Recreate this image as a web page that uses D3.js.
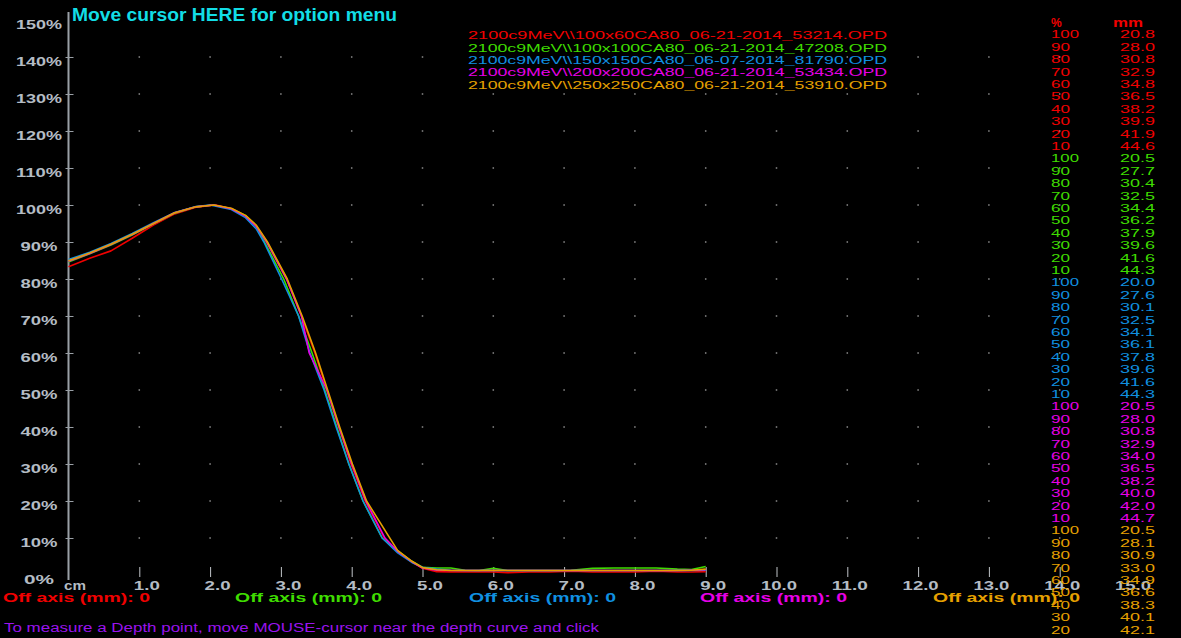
<!DOCTYPE html>
<html>
<head>
<meta charset="utf-8">
<script src="https://cdn.jsdelivr.net/npm/d3@7"></script>
<style>
  html, body { margin: 0; padding: 0; background: #000; overflow: hidden; }
  svg { display: block; }
</style>
</head>
<body>
<svg id="chart" width="1181" height="638"></svg>
<script>
// ---- Depth-dose data (depth in cm, dose in %) ----
const seriesNames = [
  "2100c9MeV\\\\100x60CA80_06-21-2014_53214.OPD",
  "2100c9MeV\\\\100x100CA80_06-21-2014_47208.OPD",
  "2100c9MeV\\\\150x150CA80_06-07-2014_81790.OPD",
  "2100c9MeV\\\\200x200CA80_06-21-2014_53434.OPD",
  "2100c9MeV\\\\250x250CA80_06-21-2014_53910.OPD"
];
const seriesColors = ["#f00000", "#3fdc00", "#1090e0", "#e600e6", "#e6a000"];

// Build-up region
const buildDepth = [0, 0.3, 0.6, 0.9, 1.2, 1.5, 1.8];
const buildRed     = [83.3, 85.6, 87.6, 91.0, 94.6, 97.6, 99.4];
const buildGreen   = [84.6, 86.8, 89.2, 91.9, 94.9, 97.8, 99.5];
const buildBlue    = [85.3, 87.2, 89.6, 92.3, 95.2, 98.0, 99.6];
const buildMagenta = [84.8, 86.9, 89.3, 92.0, 95.0, 97.9, 99.5];
const buildOrange  = [84.9, 87.0, 89.4, 92.1, 95.0, 97.9, 99.5];

// Shoulder just past the maximum
const shoulderDepth = [2.3, 2.5, 2.65];
const shoulderRed     = [99.0, 97.0, 94.3];
const shoulderGreen   = [99.0, 97.2, 94.4];
const shoulderBlue    = [98.8, 96.6, 93.6];
const shoulderMagenta = [99.0, 97.0, 94.3];
const shoulderOrange  = [99.1, 97.2, 94.6];

// Fall-off: depth (mm) at which each dose level is reached
const levels = [100, 90, 80, 70, 60, 50, 40, 30, 20, 10];
const mmRed     = [20.8, 28.0, 30.8, 32.9, 34.8, 36.5, 38.2, 39.9, 41.9, 44.6];
const mmGreen   = [20.5, 27.7, 30.4, 32.5, 34.4, 36.2, 37.9, 39.6, 41.6, 44.3];
const mmBlue    = [20.0, 27.6, 30.1, 32.5, 34.1, 36.1, 37.8, 39.6, 41.6, 44.3];
const mmMagenta = [20.5, 28.0, 30.8, 32.9, 34.0, 36.5, 38.2, 40.0, 42.0, 44.7];
const mmOrange  = [20.5, 28.1, 30.9, 33.0, 34.9, 36.6, 38.3, 40.1, 42.1];

// Bremsstrahlung tail
const tailDepth = [4.65, 4.85, 5.0, 5.2, 5.4, 5.6, 5.8, 6.0, 6.2, 6.5, 6.8, 7.1, 7.4, 7.7, 8.0, 8.3, 8.6, 8.8, 9.0];
const tailRed     = [6.3, 3.5, 1.8, 0.9, 0.8, 0.8, 0.8, 0.8, 0.6, 0.8, 0.8, 1.0, 0.8, 0.8, 0.8, 1.0, 0.8, 0.8, 0.9];
const tailGreen   = [6.6, 3.7, 2.1, 1.9, 1.9, 1.3, 1.2, 1.8, 1.2, 1.2, 1.2, 1.3, 1.8, 1.9, 1.9, 1.9, 1.6, 1.5, 2.3];
const tailBlue    = [6.0, 3.4, 2.1, 1.6, 1.3, 1.2, 1.2, 1.2, 1.2, 1.2, 1.2, 1.2, 1.2, 1.2, 1.2, 1.2, 1.2, 1.2, 1.3];
const tailMagenta = [6.4, 3.6, 1.9, 1.3, 1.2, 1.2, 1.2, 1.2, 1.2, 1.2, 1.2, 1.2, 1.2, 1.2, 1.2, 1.2, 1.2, 1.3, 1.4];
const tailOrange  = [6.6, 3.7, 2.0, 1.4, 1.2, 1.2, 1.2, 1.2, 1.2, 1.2, 1.2, 1.2, 1.2, 1.2, 1.2, 1.2, 1.2, 1.3, 1.6];

const xTicks = [0, 1, 2, 3, 4, 5, 6, 7, 8, 9, 10, 11, 12, 13, 14, 15];
const yTicks = [0, 10, 20, 30, 40, 50, 60, 70, 80, 90, 100, 110, 120, 130, 140, 150];

const series = [
  { build: buildRed,     shoulder: shoulderRed,     mm: mmRed,     tail: tailRed },
  { build: buildGreen,   shoulder: shoulderGreen,   mm: mmGreen,   tail: tailGreen },
  { build: buildBlue,    shoulder: shoulderBlue,    mm: mmBlue,    tail: tailBlue },
  { build: buildMagenta, shoulder: shoulderMagenta, mm: mmMagenta, tail: tailMagenta },
  { build: buildOrange,  shoulder: shoulderOrange,  mm: mmOrange,  tail: tailOrange }
].map((s, i) => {
  const pts = [];
  buildDepth.forEach((d, k) => pts.push([d, s.build[k]]));
  pts.push([s.mm[0] / 10, levels[0]]);
  shoulderDepth.forEach((d, k) => pts.push([d, s.shoulder[k]]));
  for (let k = 1; k < s.mm.length; k++) pts.push([s.mm[k] / 10, levels[k]]);
  tailDepth.forEach((d, k) => pts.push([d, s.tail[k]]));
  return { name: seriesNames[i], color: seriesColors[i], mm: s.mm, points: pts };
});

// ---- Layout ----
const FONT = "'Liberation Sans', Arial, sans-serif";
const AXIS_GRAY = "#b4bcc4";
const svg = d3.select("#chart");
svg.append("rect").attr("width", 1181).attr("height", 638).attr("fill", "#000");

const x = d3.scaleLinear().domain([0, 15]).range([68.5, 68.5 + 15 * 70.8]);
const y = d3.scaleLinear().domain([0, 150]).range([575, 20]);

function label(g, px, py, str, o) {
  const t = g.append("text")
    .attr("x", px).attr("y", py)
    .attr("dy", "0.35em")
    .attr("fill", o.fill)
    .attr("font-family", FONT)
    .attr("font-size", o.size)
    .attr("font-weight", o.weight || "normal")
    .attr("text-anchor", o.anchor || "start")
    .text(str);
  if (o.len) t.attr("textLength", o.len).attr("lengthAdjust", "spacingAndGlyphs");
  return t;
}

// Grid dots
const grid = svg.append("g");
for (let cx = 1; cx <= 14; cx++) {
  for (let v = 10; v <= 140; v += 10) {
    grid.append("rect")
      .attr("x", x(cx) - 0.75).attr("y", y(v) - 0.75)
      .attr("width", 1.5).attr("height", 1.5)
      .attr("fill", "#8a8a8a");
  }
}

// Y axis
const yAxisG = svg.append("g").attr("transform", `translate(${x(0)},0)`);
yAxisG.call(d3.axisLeft(y).tickValues(yTicks).tickSize(3).tickFormat(d => d + "%"));
yAxisG.select(".domain").remove();
yAxisG.selectAll(".tick line")
  .attr("x1", -3).attr("x2", 5)
  .attr("stroke", "#9aa0a6").attr("stroke-width", 1)
  .style("display", d => (d === 0 || d === 150) ? "none" : null);
yAxisG.selectAll(".tick text")
  .attr("x", 39 - x(0))
  .attr("dy", "0.35em")
  .attr("y", 3.5)
  .attr("text-anchor", "middle")
  .attr("fill", AXIS_GRAY)
  .attr("font-family", FONT)
  .attr("font-size", 13)
  .attr("font-weight", "bold")
  .attr("textLength", d => ({ 2: 30, 3: 37, 4: 46 })[String(d).length + 1])
  .attr("lengthAdjust", "spacingAndGlyphs");
svg.append("line")
  .attr("x1", x(0)).attr("x2", x(0))
  .attr("y1", 12).attr("y2", 580)
  .attr("stroke", "#9aa0a6").attr("stroke-width", 2);

// X axis
const xAxisG = svg.append("g").attr("transform", "translate(0,577)");
xAxisG.call(d3.axisBottom(x).tickValues(xTicks).tickSize(-10)
  .tickFormat(d => d === 0 ? "cm" : d3.format(".1f")(d)));
xAxisG.select(".domain").remove();
xAxisG.selectAll(".tick line")
  .attr("stroke", "#c0c4c8").attr("stroke-width", 1)
  .style("display", d => (d === 0 || d === 15) ? "none" : null);
xAxisG.selectAll(".tick text")
  .attr("x", d => d === 0 ? 17 : 20)
  .attr("y", 8)
  .attr("dy", "0.35em")
  .attr("text-anchor", "end")
  .attr("fill", AXIS_GRAY)
  .attr("font-family", FONT)
  .attr("font-size", 13)
  .attr("font-weight", "bold")
  .attr("textLength", d => d === 0 ? 22 : (d >= 10 ? 36 : 26))
  .attr("lengthAdjust", "spacingAndGlyphs");

// Curves
const line = d3.line().x(d => x(d[0])).y(d => y(d[1]));
const curves = svg.append("g");
series.forEach(s => {
  curves.append("path")
    .attr("d", line(s.points))
    .attr("fill", "none")
    .attr("stroke", s.color)
    .attr("stroke-width", 1.6)
    .attr("stroke-linejoin", "round");
});

// Title
label(svg, 72, 15, "Move cursor HERE for option menu",
  { fill: "#12dde6", size: 18, weight: "bold", len: 325 });

// Legend of files
const legend = svg.append("g");
series.forEach((s, i) => {
  label(legend, 468, 35.5 + i * 12.3, s.name, { fill: s.color, size: 11, len: 419 });
});

// Right-hand table of depths per dose level
const table = svg.append("g");
label(table, 1051, 23, "%", { fill: seriesColors[0], size: 12, weight: "bold" });
label(table, 1113, 23, "mm", { fill: seriesColors[0], size: 12, weight: "bold", len: 30 });
series.forEach((s, i) => {
  s.mm.forEach((v, k) => {
    const row = i * levels.length + k;
    const ry = 34.3 + row * 12.4;
    const ls = String(levels[k]);
    label(table, 1051, ry, ls, { fill: s.color, size: 11.5, len: ls.length === 3 ? 28 : 19 });
    label(table, 1120, ry, v.toFixed(1), { fill: s.color, size: 11.5, len: 35 });
  });
});

// Off-axis captions
const offX = [3, 235, 469, 700, 933];
series.forEach((s, i) => {
  label(svg, offX[i], 597, "Off axis (mm): 0",
    { fill: s.color, size: 13.5, weight: "bold", len: 147 });
});

// Instruction line
label(svg, 4, 628, "To measure a Depth point, move MOUSE-cursor near the depth curve and click",
  { fill: "#9a14ee", size: 12.5, len: 595 });
</script>
</body>
</html>
